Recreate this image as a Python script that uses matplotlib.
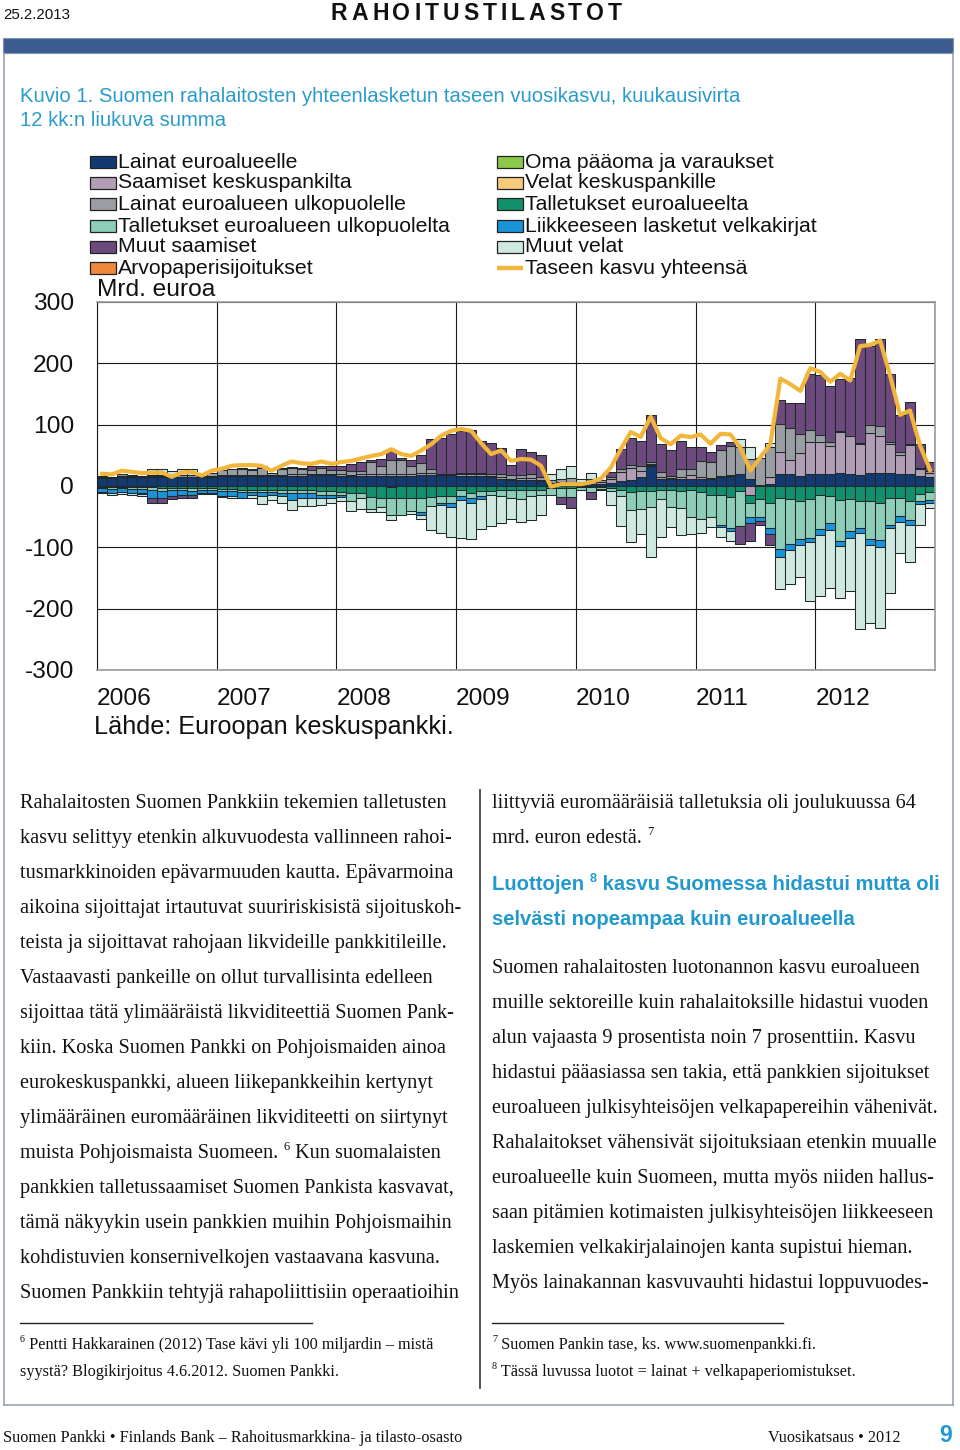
import numpy as np
import matplotlib
matplotlib.use("Agg")
import matplotlib.pyplot as plt
from matplotlib.patches import Rectangle
from matplotlib.lines import Line2D
from matplotlib.font_manager import FontProperties

plt.rcParams['font.family'] = ['Liberation Sans', 'DejaVu Sans']

# ---------------- data (mrd. euroa, 12 kk liukuva summa), 2006/01 - 2012/12 ----------------
years = ['2006', '2007', '2008', '2009', '2010', '2011', '2012']
y_ticks = [-300, -200, -100, 0, 100, 200, 300]
y_tick_labels = ['-300', '-200', '-100', '0', '100', '200', '300']

lainat_euroalueelle = [
    13, 13, 15, 15, 14, 15, 15, 14, 14, 14, 14, 15,
    17, 17, 17, 17, 17, 17, 17, 17, 17, 18, 18, 18,
    16, 16, 17, 17, 17, 17, 17, 17, 18, 18, 18, 18,
    17, 17, 17, 14, 12, 10, 10, 10, 8, 4, 3, 3,
    3, 3, 4, 5, 8, 10, 15, 32, 11, 11, 11, 12,
    11, 11, 14, 17, 19, 11, 2, 3, 20, 20, 17, 20,
    20, 20, 21, 20, 18, 22, 22, 21, 20, 20, 17, 14]
oma_paaoma = [
    0, 0, 0, 0, 0, 0, 0, 0, 0, 0, 0, 0,
    0, 0, 0, 0, 0, 0, 0, 0, 0, 0, 0, 0,
    0, 0, 0, 0, 0, -1, 0, 0, 0, 0, 0, 0,
    0, 0, 0, 0, 0, 0, 0, 0, 0, 0, 0, 0,
    0, 0, 0, 0, 0, 0, 0, 0, 0, 0, 0, 0,
    0, 0, 0, 0, 0, 0, 0, 0, 0, 0, 0, 0,
    0, 0, 0, 0, 0, 0, 0, 0, 0, 0, 0, 0]
saamiset_keskuspankilta = [
    1, 1, 1, 1, 1, 1, 1, 1, 1, 1, 1, 1,
    1, 1, 1, 1, 1, 1, 1, 2, 2, 2, 1, 1,
    3, 2, 2, 2, 2, 2, 2, 2, 4, 3, 2, 2,
    2, 2, 2, 2, 3, 2, 3, 3, 2, 1, 3, 4,
    0, 3, 2, 6, 15, 20, 10, 3, 3, 2, 3, 6,
    3, 2, 2, 1, 0, -14, 0, 11, 35, 22, 37, 52,
    51, 46, 67, 61, 51, 64, 59, 48, 30, 47, 11, 8]
velat_keskuspankille = [
    0, 0, 0, 0, 0, 0, 0, 0, 0, 0, 0, 0,
    0, 0, 0, 0, 0, 0, 0, 0, 0, 0, 0, 0,
    0, 0, 0, 0, 0, 1, 0, 0, 0, 0, 0, 0,
    0, 0, 0, 0, 0, 0, 0, 0, 0, 0, 0, 0,
    0, 0, 0, 0, 0, 0, 0, 1, 1, 0, 0, 0,
    0, 0, 0, 0, 0, 0, 0, 0, 0, 0, 0, 0,
    0, 0, 0, 0, 0, 0, 0, 0, 0, 0, 0, 0]
lainat_ulkopuolelle = [
    2, 1, 3, 2, 2, 2, 2, 2, 3, 3, 2, 5,
    8, 10, 10, 8, 12, 3, 10, 10, 8, 6, 10, 7,
    7, 6, 6, 20, 13, 22, 24, 13, 16, 6, 0, 0,
    3, 2, 2, 4, 4, 6, 5, 6, 5, 4, 6, 6,
    3, 5, 3, 4, 4, 5, 7, 3, 8, 4, 14, 10,
    27, 26, 43, 48, 44, 33, 43, 49, 46, 53, 31, 19,
    12, 5, 2, 1, 1, 13, 17, 2, 6, 2, 1, 3]
talletukset_euroalueelta = [
    -2, -2, -1, -2, -2, -2, -3, -3, -4, -4, -3, -3,
    -5, -5, -6, -6, -6, -6, -7, -7, -7, -7, -8, -8,
    -10, -12, -12, -18, -19, -19, -19, -19, -19, -18, -17, -17,
    -7, -11, -8, -8, -6, -6, -6, -6, -6, -4, -4, -4,
    -2, -2, -2, -3, -6, -9, -8, -8, -7, -7, -8, -6,
    -10, -14, -15, -18, -8, -14, -21, -27, -20, -21, -24, -22,
    -15, -17, -23, -22, -25, -24, -28, -19, -19, -25, -13, -10]
talletukset_ulkopuolelta = [
    -2, -3, -2, -3, -3, -5, -5, -3, -3, -4, -3, -3,
    -3, -3, -3, -3, -4, -3, -4, -4, -4, -5, -6, -6,
    -4, -12, -8, -20, -15, -27, -28, -22, -24, -15, -10, -11,
    -10, -8, -8, -6, -10, -14, -16, -10, -8, -11, -14, -14,
    -4, -8, -3, -5, -10, -30, -30, -27, -14, -27, -28, -45,
    -43, -36, -48, -51, -57, -23, -29, -42, -82, -73, -63, -62,
    -55, -44, -67, -52, -43, -62, -60, -44, -30, -30, -11, -13]
velkakirjat = [
    -5, -6, -6, -7, -7, -12, -12, -10, -7, -7, -6, -6,
    -8, -9, -10, -6, -6, -6, -5, -12, -8, -7, -5, -6,
    -4, 0, 0, 0, 0, 0, 0, 0, -5, 0, -4, -6,
    -6, -8, -5, 0, 0, 0, 0, 0, 0, 0, 0, 0,
    -1, 0, 0, 0, 0, 0, 0, 0, 0, 0, 0, 0,
    0, 0, -4, -4, 0, -9, -7, -10, -13, -11, -9, -8,
    -10, -11, -8, -10, -8, -10, -11, -5, -9, -8, -5, -5]
muut_saamiset = [
    0, 0, 0, 0, -1, -8, -8, -5, -6, -5, 0, 0,
    0, 0, 1, 1, 2, 0, 1, 2, 2, 6, 4, 6,
    6, 12, 14, 4, 12, 15, 3, 11, 13, 50, 58, 65,
    68, 70, 52, 50, 43, 16, 42, 37, 35, 0, -11, -18,
    0, -12, 0, 8, 34, 43, 42, 77, 46, 41, 46, 35,
    23, 16, 8, 5, -30, -30, -6, -17, 40, 40, 51, 92,
    98, 92, 85, 94, 169, 129, 141, 111, 60, 68, 40, 14]
muut_velat = [
    -2, -4, -4, -3, -4, 10, 9, 7, 9, 9, -1, -1,
    -2, -3, -1, -5, -14, -8, -12, -16, -14, -14, -12, -8,
    -7, -17, -17, -4, -8, -9, 0, -4, -5, -38, -46, -49,
    -62, -60, -49, -51, -44, -34, -36, -39, -34, 10, 15, 20,
    5, 11, -2, -23, -50, -53, -40, -80, -62, -33, -44, -27,
    -24, -17, -16, -16, 14, 20, 0, 7, -53, -55, -53, -96,
    -100, -94, -84, -88, -157, -128, -133, -107, -51, -61, -35, -8]
arvopaperisijoitukset = [
    0, 0, 0, 0, 0, 0, 0, 0, 0, 0, 0, 0,
    0, 0, 0, 0, 0, 0, 0, 0, 0, 0, 0, 0,
    0, 0, 0, 0, 0, 0, 0, 0, 0, 0, 0, 0,
    0, 0, 0, 0, 0, 0, 0, 0, 0, 0, 0, 0,
    0, 0, 0, 0, 0, 0, 0, 0, 0, 0, 0, 0,
    0, 0, 0, 0, 0, 0, 0, 0, 0, 0, 0, 0,
    0, 0, 0, 0, 0, 0, 0, 0, 0, 0, 0, 0]
taseen_kasvu = [
    20, 19, 25, 23, 21, 22, 22, 15, 22, 23, 17, 25,
    28, 33, 34, 34, 33, 25, 33, 40, 37, 36, 40, 36,
    39, 41, 45, 49, 52, 60, 52, 49, 58, 68, 82, 90,
    93, 90, 70, 52, 58, 41, 44, 43, 33, -1, 3, 3,
    3, 6, 12, 30, 60, 88, 80, 113, 78, 68, 82, 80,
    84, 69, 85, 84, 62, 25, 47, 68, 175, 166, 155, 192,
    186, 170, 183, 172, 228, 230, 237, 180, 116, 123, 66, 26]

# stacking order (Excel series order) with colours
stack = [
    ('Lainat euroalueelle', lainat_euroalueelle, '#133A70'),
    ('Oma pääoma ja varaukset', oma_paaoma, '#8CC84B'),
    ('Saamiset keskuspankilta', saamiset_keskuspankilta, '#B29EB4'),
    ('Velat keskuspankille', velat_keskuspankille, '#F7CA7C'),
    ('Lainat euroalueen ulkopuolelle', lainat_ulkopuolelle, '#9A9DA2'),
    ('Talletukset euroalueelta', talletukset_euroalueelta, '#12906C'),
    ('Talletukset euroalueen ulkopuolelta', talletukset_ulkopuolelta, '#8ECDB7'),
    ('Liikkeeseen lasketut velkakirjat', velkakirjat, '#1A93D9'),
    ('Muut saamiset', muut_saamiset, '#6D4A7D'),
    ('Muut velat', muut_velat, '#CFE8E0'),
    ('Arvopaperisijoitukset', arvopaperisijoitukset, '#F0883C'),
]
colors = {name: c for name, _, c in stack}
line_color = '#F3B63C'

# ---------------- page ----------------
W, H, DPI = 960, 1450, 100
fig = plt.figure(figsize=(W / DPI, H / DPI), dpi=DPI)
PT = 72.0 / DPI
renderer = fig.canvas.get_renderer()


def fx(x):
    return x / W


def fy(y):
    return 1 - y / H


def txt(x, y, s, px, **kw):
    kw.setdefault('va', 'center')
    return fig.text(fx(x), fy(y), s, fontsize=px * PT, **kw)


def width_px(s, prop):
    a = renderer.get_text_width_height_descent(s + '|', prop, ismath=False)[0]
    b = renderer.get_text_width_height_descent('|', prop, ismath=False)[0]
    return a - b


def rich(x, y, parts, px, family, color='#111', weight='normal', sup_scale=0.62, sup_rise=0.42):
    """Draw a line made of normal and superscript parts; y is the visual centre of the line."""
    base = y + 0.30 * px
    cur = x
    for s, sup in parts:
        size = px * sup_scale if sup else px
        yy = base - (sup_rise * px if sup else 0)
        prop = FontProperties(family=family, size=size * PT, weight=weight)
        fig.text(fx(cur), fy(yy), s, fontproperties=prop, va='baseline', ha='left', color=color)
        cur += width_px(s, prop)


def rect(x0, y0, x1, y1, **kw):
    fig.patches.append(Rectangle((fx(x0), fy(y1)), (x1 - x0) / W, (y1 - y0) / H,
                                 transform=fig.transFigure, figure=fig, **kw))


def hline(x0, x1, y, **kw):
    fig.lines.append(Line2D([fx(x0), fx(x1)], [fy(y), fy(y)], transform=fig.transFigure, figure=fig, **kw))


def vline(x, y0, y1, **kw):
    fig.lines.append(Line2D([fx(x), fx(x)], [fy(y0), fy(y1)], transform=fig.transFigure, figure=fig, **kw))


# header
txt(3, 15, '25.2.2013', 15, color='#111')
head = 'RAHOITUSTILASTOT'
hprop = FontProperties(family='Liberation Sans', weight='bold', size=23 * PT)
widths = [width_px(c, hprop) for c in head]
track = (291 - sum(widths)) / (len(head) - 1)
xc = 331
for c, w in zip(head, widths):
    fig.text(fx(xc), fy(13), c, fontproperties=hprop, va='center', ha='left', color='#111')
    xc += w + track

# blue band and frame
rect(3, 38, 953, 53, facecolor='#3B5B8E', edgecolor='#7F93B5', linewidth=0.8)
frame_kw = dict(color='#8E9BB0', linewidth=1.1)
vline(3.5, 53, 1405, **frame_kw)
vline(952.5, 53, 1405, **frame_kw)
hline(3.5, 952.5, 1405, **frame_kw)

# figure title
title_c = '#2A9BCB'
txt(20, 97, 'Kuvio 1. Suomen rahalaitosten yhteenlasketun taseen vuosikasvu, kuukausivirta', 20.3, color=title_c)
txt(20, 120, '12 kk:n liukuva summa', 20.3, color=title_c)

# legend
left_items = ['Lainat euroalueelle', 'Saamiset keskuspankilta', 'Lainat euroalueen ulkopuolelle',
              'Talletukset euroalueen ulkopuolelta', 'Muut saamiset', 'Arvopaperisijoitukset']
right_items = ['Oma pääoma ja varaukset', 'Velat keskuspankille', 'Talletukset euroalueelta',
               'Liikkeeseen lasketut velkakirjat', 'Muut velat']
rows = [162, 183, 204, 226, 247, 268]
for i, name in enumerate(left_items):
    rect(90, rows[i] - 6, 116, rows[i] + 6, facecolor=colors[name], edgecolor='#222', linewidth=0.9)
    txt(118, rows[i], name, 21.3, color='#111')
for i, name in enumerate(right_items):
    rect(497, rows[i] - 6, 523, rows[i] + 6, facecolor=colors[name], edgecolor='#222', linewidth=0.9)
    txt(525, rows[i], name, 21.3, color='#111')
hline(497, 523, rows[5], color=line_color, linewidth=3.2, solid_capstyle='butt')
txt(525, rows[5], 'Taseen kasvu yhteensä', 21.3, color='#111')
txt(97, 290, 'Mrd. euroa', 24.5, color='#111')

# ---------------- chart ----------------
ax = fig.add_axes([fx(97), fy(670), (935 - 97) / W, (670 - 302) / H])
n = len(taseen_kasvu)
x = np.arange(n) + 0.5
pos_base = np.zeros(n)
neg_base = np.zeros(n)
for name, vals, col in stack:
    v = np.asarray(vals, dtype=float)
    p = v > 0
    if p.any():
        ax.bar(x[p], v[p], width=1.0, bottom=pos_base[p], color=col, edgecolor='#1E2A2C',
               linewidth=0.75, zorder=2)
    q = v < 0
    if q.any():
        ax.bar(x[q], v[q], width=1.0, bottom=neg_base[q], color=col, edgecolor='#1E2A2C',
               linewidth=0.75, zorder=2)
    pos_base = pos_base + np.clip(v, 0, None)
    neg_base = neg_base + np.clip(v, None, 0)

ax.plot(x, taseen_kasvu, color=line_color, linewidth=3.0, solid_joinstyle='round', zorder=4)

ax.set_xlim(0, n)
ax.set_ylim(-300, 300)
ax.set_yticks(y_ticks)
ax.set_yticklabels(y_tick_labels)
ax.set_xticks(np.arange(0, n + 1, 12))
ax.set_xticklabels(years + [''])
for lab in ax.get_xticklabels():
    lab.set_ha('left')
ax.tick_params(axis='both', length=0, labelsize=24.5 * PT, colors='#111')
ax.tick_params(axis='y', pad=16.5)
ax.tick_params(axis='x', pad=13)
ax.grid(True, color='#1A1A1A', linewidth=0.8, zorder=0)
ax.set_axisbelow(True)
for s in ax.spines.values():
    s.set_color('#9A9A9A')
    s.set_linewidth(1.2)
ax.spines['left'].set_color('#1A1A1A')
ax.spines['left'].set_linewidth(0.8)

txt(94, 727, 'Lähde: Euroopan keskuspankki.', 25.3, color='#111')

# ---------------- body text ----------------
serif = ['Liberation Serif', 'DejaVu Serif']
body_px = 20.3
left_lines = [
    [('Rahalaitosten Suomen Pankkiin tekemien talletusten', False)],
    [('kasvu selittyy etenkin alkuvuodesta vallinneen rahoi-', False)],
    [('tusmarkkinoiden epävarmuuden kautta. Epävarmoina', False)],
    [('aikoina sijoittajat irtautuvat suuririskisistä sijoituskoh-', False)],
    [('teista ja sijoittavat rahojaan likvideille pankkitileille.', False)],
    [('Vastaavasti pankeille on ollut turvallisinta edelleen', False)],
    [('sijoittaa tätä ylimääräistä likviditeettiä Suomen Pank-', False)],
    [('kiin. Koska Suomen Pankki on Pohjoismaiden ainoa', False)],
    [('eurokeskuspankki, alueen liikepankkeihin kertynyt', False)],
    [('ylimääräinen euromääräinen likviditeetti on siirtynyt', False)],
    [('muista Pohjoismaista Suomeen. ', False), ('6', True), (' Kun suomalaisten', False)],
    [('pankkien talletussaamiset Suomen Pankista kasvavat,', False)],
    [('tämä näkyykin usein pankkien muihin Pohjoismaihin', False)],
    [('kohdistuvien konsernivelkojen vastaavana kasvuna.', False)],
    [('Suomen Pankkiin tehtyjä rahapoliittisiin operaatioihin', False)],
]
for i, parts in enumerate(left_lines):
    rich(20, 802 + 35 * i, parts, body_px, serif)

rich(492, 802, [('liittyviä euromääräisiä talletuksia oli joulukuussa 64', False)], body_px, serif)
rich(492, 837, [('mrd. euron edestä. ', False), ('7', True)], body_px, serif)
head_c = '#2199CF'
rich(492, 884, [('Luottojen ', False), ('8', True), (' kasvu Suomessa hidastui mutta oli', False)],
     20.3, ['Liberation Sans', 'DejaVu Sans'], color=head_c, weight='bold')
rich(492, 919, [('selvästi nopeampaa kuin euroalueella', False)], 20.3,
     ['Liberation Sans', 'DejaVu Sans'], color=head_c, weight='bold')
right_lines = [
    'Suomen rahalaitosten luotonannon kasvu euroalueen',
    'muille sektoreille kuin rahalaitoksille hidastui vuoden',
    'alun vajaasta 9 prosentista noin 7 prosenttiin. Kasvu',
    'hidastui pääasiassa sen takia, että pankkien sijoitukset',
    'euroalueen julkisyhteisöjen velkapapereihin vähenivät.',
    'Rahalaitokset vähensivät sijoituksiaan etenkin muualle',
    'euroalueelle kuin Suomeen, mutta myös niiden hallus-',
    'saan pitämien kotimaisten julkisyhteisöjen liikkeeseen',
    'laskemien velkakirjalainojen kanta supistui hieman.',
    'Myös lainakannan kasvuvauhti hidastui loppuvuodes-',
]
for i, s in enumerate(right_lines):
    rich(492, 967 + 35 * i, [(s, False)], body_px, serif)

vline(480, 790, 1388, color='#444', linewidth=1.3)
hline(20, 312, 1323, color='#222', linewidth=1.0)
hline(492, 783, 1323, color='#222', linewidth=1.0)

fn_px = 16.3
rich(20, 1344, [('6', True), (' Pentti Hakkarainen (2012) Tase kävi yli 100 miljardin – mistä', False)],
     fn_px, serif)
rich(20, 1371, [('syystä? Blogikirjoitus 4.6.2012. Suomen Pankki.', False)], fn_px, serif)
rich(492, 1344, [('7', True), (' Suomen Pankin tase, ks. www.suomenpankki.fi.', False)], fn_px, serif)
rich(492, 1371, [('8', True), (' Tässä luvussa luotot = lainat + velkapaperiomistukset.', False)],
     fn_px, serif)

# footer
txt(3, 1438, 'Suomen Pankki \u2022 Finlands Bank – Rahoitusmarkkina- ja tilasto-osasto', 16.3,
    family=serif, color='#111')
txt(900, 1438, 'Vuosikatsaus \u2022 2012', 16.3, family=serif, color='#111', ha='right')
txt(946, 1435, '9', 23, color='#2199CF', weight='bold', ha='center')

fig.savefig('out.png', dpi=DPI)
